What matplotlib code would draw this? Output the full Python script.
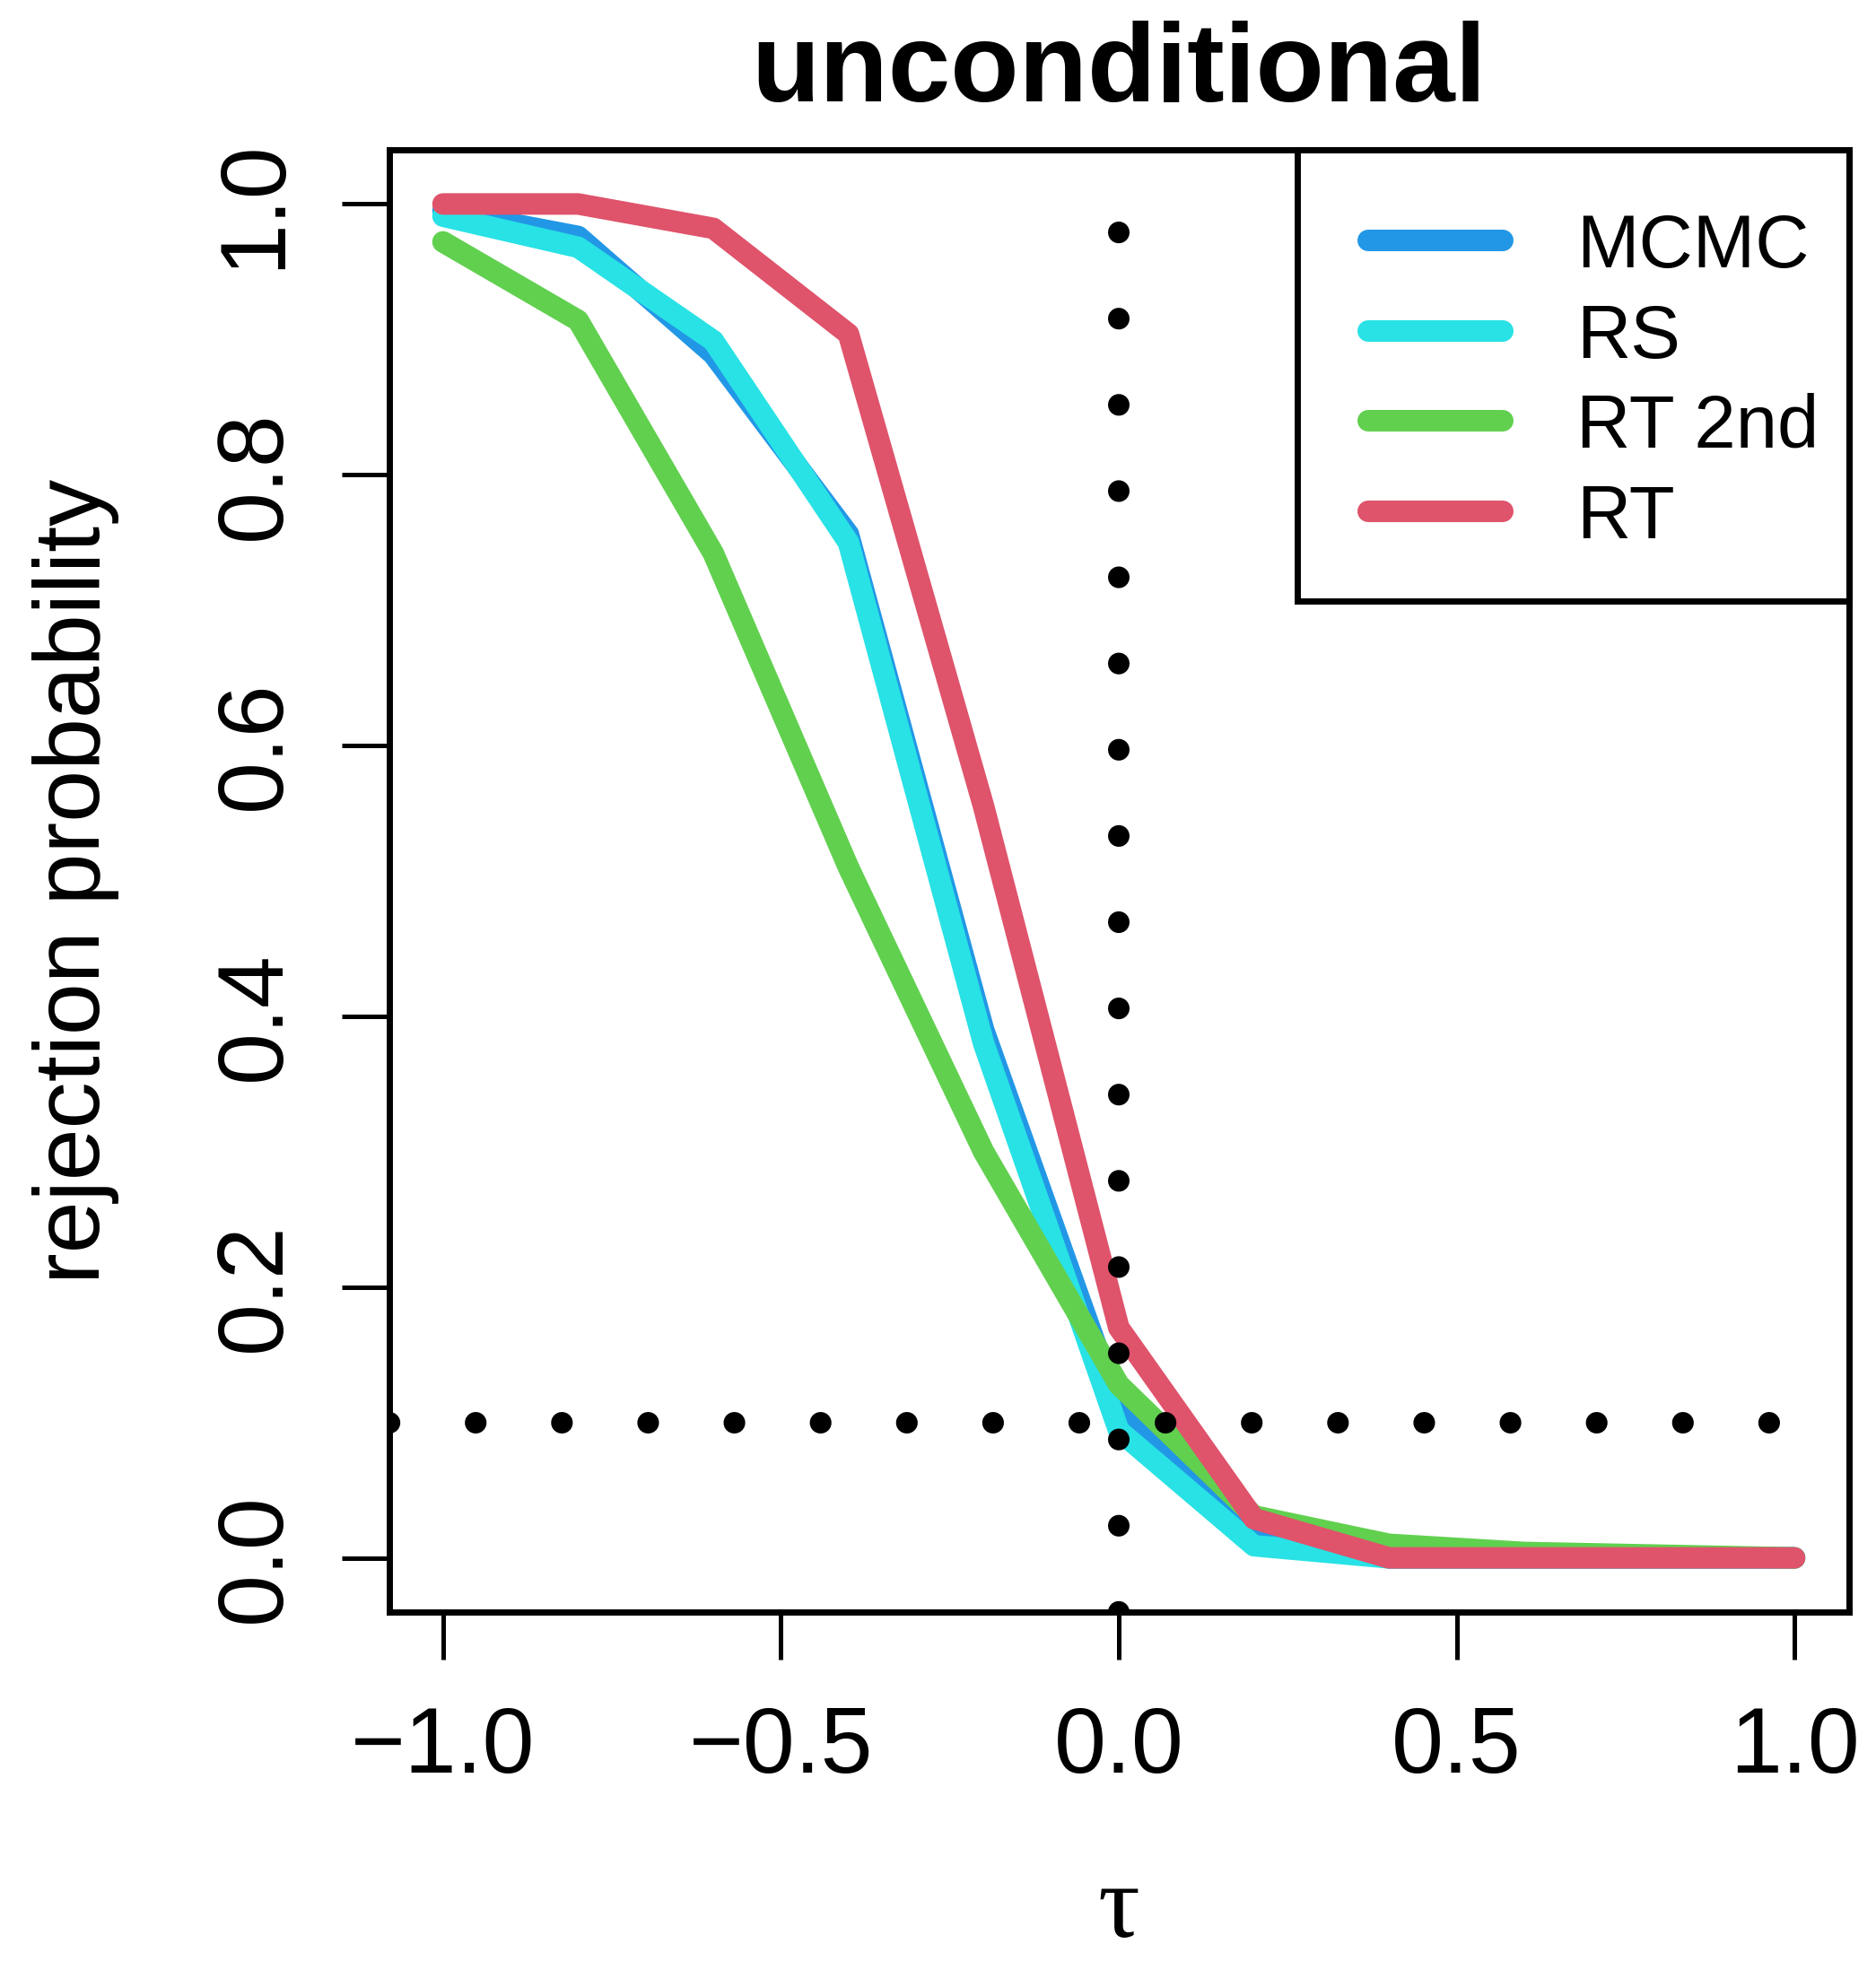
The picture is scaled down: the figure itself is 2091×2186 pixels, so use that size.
import matplotlib
matplotlib.use("Agg")
import matplotlib.pyplot as plt
from matplotlib.patches import Rectangle

plt.rcParams['font.family'] = ['Liberation Sans', 'DejaVu Sans']

tau = [-1.0, -0.8, -0.6, -0.4, -0.2, 0.0, 0.2, 0.4, 0.6, 0.8, 1.0]
mcmc = [0.995, 0.976, 0.889, 0.756, 0.390, 0.110, 0.021, 0.0, 0.0, 0.0, 0.0]
rs = [0.991, 0.968, 0.899, 0.750, 0.380, 0.094, 0.009, 0.0, 0.0, 0.0, 0.0]
rt_2nd = [0.972, 0.914, 0.742, 0.510, 0.300, 0.128, 0.031, 0.010, 0.004, 0.002, 0.0]
rt = [1.0, 1.0, 0.982, 0.904, 0.555, 0.170, 0.029, 0.0, 0.0, 0.0, 0.0]

names = ["MCMC", "RS", "RT 2nd", "RT"]
colors = ["#2297E6", "#28E2E5", "#61D04F", "#DF536B"]
series = [mcmc, rs, rt_2nd, rt]

xticks = [-1.0, -0.5, 0.0, 0.5, 1.0]
yticks = [0.0, 0.2, 0.4, 0.6, 0.8, 1.0]
nominal = 0.1

W, H = 2091, 2186
fig = plt.figure(figsize=(W / 100, H / 100), dpi=100)
ax = fig.add_axes([433.5 / W, 1 - 1797 / H, 1627 / W, 1630 / H])

lw = 17.3
for vals, col in zip(series, colors):
    ax.plot(tau, vals, color=col, lw=lw, solid_capstyle='round',
            solid_joinstyle='round', zorder=2)

# dotted reference lines (R lty=3)
for ln in (ax.axhline(nominal, color='black', lw=lw, zorder=3),
           ax.axvline(0.0, color='black', lw=lw, zorder=3)):
    ln.set_dashes((0.01, 3.99))
    ln.set_dash_capstyle('round')

ax.set_xlim(-1.08, 1.08)
ax.set_ylim(-0.04, 1.04)
ax.set_xticks(xticks)
ax.set_yticks(yticks)
ax.set_xticklabels([f"{t:.1f}".replace("-", "\u2212") for t in xticks])
ax.set_yticklabels([f"{t:.1f}" for t in yticks], rotation=90, va='center')
ax.tick_params(length=38, width=3.6, labelsize=75)
ax.tick_params(axis='x', pad=37)
ax.tick_params(axis='y', pad=34)
for sp in ax.spines.values():
    sp.set_linewidth(5)
    sp.set_zorder(5)

ax.set_title("unconditional", fontsize=90, fontweight='bold', y=1.033,
             pad=0, va='baseline')
ax.set_ylabel("rejection probability", fontsize=75, va='center')
ax.yaxis.set_label_coords(-0.2148, 0.5)
ax.set_xlabel("\u03c4", fontsize=84, family=['Liberation Serif', 'DejaVu Serif'])
ax.xaxis.set_label_coords(0.5, -0.2221)
ax.xaxis.label.set_va('baseline')

# legend box, R style
leg_left, leg_bottom = 0.6223, 0.6914
ax.add_patch(Rectangle((leg_left, leg_bottom), 1 - leg_left, 1 - leg_bottom,
                       transform=ax.transAxes, fill=False, lw=5,
                       edgecolor='black', zorder=6, clip_on=False))
row_y = [0.9380, 0.8761, 0.8147, 0.7528]
for name, col, yy in zip(names, colors, row_y):
    ax.plot([0.6709, 0.7633], [yy, yy], transform=ax.transAxes, color=col,
            lw=lw, solid_capstyle='round', zorder=6)
    ax.text(0.8135, yy - 0.0184, name, transform=ax.transAxes, fontsize=60,
            va='baseline', ha='left', zorder=6)

fig.savefig("out.png", dpi=100, facecolor='white')
